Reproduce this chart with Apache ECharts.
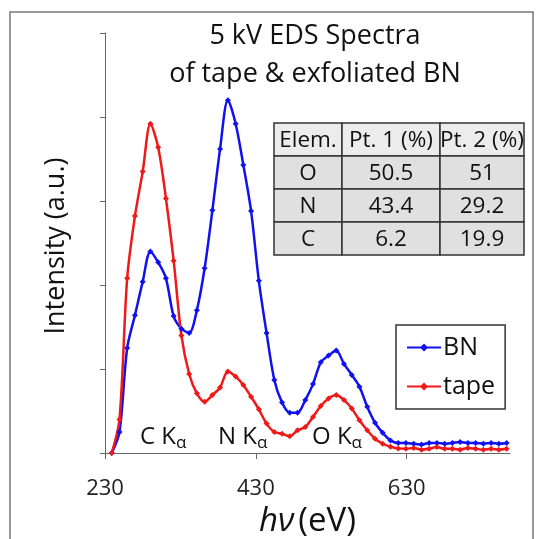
<!DOCTYPE html>
<html lang="en">

<head>
    <meta charset="UTF-8">
    <title>5 kV EDS Spectra</title>
    <script src="https://cdn.jsdelivr.net/npm/echarts@6/dist/echarts.min.js"></script>
    <style>
        html, body { margin: 0; padding: 0; background: #fff; }
        #chart { width: 539px; height: 539px; }
    </style>
</head>

<body>
<div id="chart"></div>

<script>
    // energy channels (eV)
    var energy = [238.9, 249.2, 259.4, 269.7, 280.0, 290.2, 300.5, 310.8, 321.0, 331.3,
        341.6, 351.8, 362.1, 372.4, 382.6, 392.9, 403.2, 413.4, 423.7, 434.0,
        444.2, 454.5, 464.8, 475.0, 485.3, 495.6, 505.8, 516.1, 526.4, 536.6,
        546.9, 557.2, 567.4, 577.7, 588.0, 598.2, 608.5, 618.8, 629.0, 639.3,
        649.6, 659.8, 670.1, 680.4, 690.6, 700.9, 711.2, 721.4, 731.7, 742.0,
        752.2, 762.5]
    // exfoliated BN spectrum (a.u.)
    var bn = [0, 0.25, 1.25, 1.64, 2.04, 2.40, 2.27, 2.08, 1.63, 1.48,
        1.43, 1.70, 2.20, 2.89, 3.62, 4.20, 3.92, 3.43, 2.88, 2.05,
        1.43, 0.87, 0.60, 0.48, 0.48, 0.63, 0.82, 1.08, 1.16, 1.22,
        1.06, 0.93, 0.79, 0.55, 0.36, 0.24, 0.15, 0.12, 0.12, 0.11,
        0.10, 0.12, 0.12, 0.11, 0.12, 0.13, 0.12, 0.12, 0.11, 0.12,
        0.11, 0.12]
    // tape spectrum (a.u.)
    var tape = [0, 0.40, 2.08, 2.82, 3.35, 3.92, 3.64, 3.03, 2.29, 1.40,
        0.94, 0.71, 0.61, 0.69, 0.78, 0.97, 0.91, 0.81, 0.67, 0.52,
        0.35, 0.25, 0.23, 0.20, 0.27, 0.31, 0.43, 0.56, 0.65, 0.69,
        0.63, 0.53, 0.39, 0.27, 0.17, 0.11, 0.075, 0.055, 0.05, 0.06,
        0.04, 0.05, 0.07, 0.05, 0.05, 0.04, 0.06, 0.05, 0.04, 0.05,
        0.04, 0.05]

    // composition table
    var tableHead = ['Elem.', 'Pt. 1 (%)', 'Pt. 2 (%)']
    var elements = ['O', 'N', 'C']
    var pt1 = ['50.5', '43.4', '6.2']
    var pt2 = ['51', '29.2', '19.9']

    // peak labels
    var peakNames = ['C K', 'N K', 'O K']

    var FONT = '"Open Sans", sans-serif'

    function pairs(xs, ys) {
        return xs.map(function (x, i) { return [x, ys[i]] })
    }

    // table drawn as graphic cells
    var colX = [274, 342, 440, 524]
    var rowY = [123, 156, 189, 222, 255]
    var tableEls = []
    var rows = [tableHead].concat(elements.map(function (e, i) { return [e, pt1[i], pt2[i]] }))
    rows.forEach(function (row, r) {
        row.forEach(function (txt, c) {
            tableEls.push({
                type: 'rect',
                shape: { x: colX[c], y: rowY[r], width: colX[c + 1] - colX[c], height: rowY[r + 1] - rowY[r] },
                style: { fill: r === 0 ? '#ececec' : '#e0e0e0', stroke: '#333', lineWidth: 1.5 }
            })
            tableEls.push({
                type: 'text',
                x: (colX[c] + colX[c + 1]) / 2,
                y: (rowY[r] + rowY[r + 1]) / 2 + 1,
                style: { text: txt, fontSize: 22.5, fontFamily: FONT, fill: '#111', align: 'center', verticalAlign: 'middle' }
            })
        })
    })

    var peakX = [140, 218, 312]
    var peakEls = peakNames.map(function (p, i) {
        return {
            type: 'text',
            x: peakX[i],
            y: 423,
            style: {
                text: '{a|' + p + '}{s|α}',
                rich: {
                    a: { fontSize: 24, fontFamily: FONT, fill: '#111' },
                    s: { fontSize: 17, fontFamily: FONT, fill: '#111', padding: [12, 0, 0, 0] }
                }
            }
        }
    })

    var mCharts = echarts.init(document.getElementById('chart'))
    var option = {
        animation: false,
        backgroundColor: '#fff',
        grid: { left: 105, right: 29, top: 33, bottom: 86, outerBoundsMode: 'none' },
        xAxis: {
            type: 'value',
            min: 230,
            max: 767,
            interval: 200,
            axisLine: { lineStyle: { color: '#666', width: 1 } },
            axisTick: { show: true, length: 6, lineStyle: { color: '#666' } },
            axisLabel: { fontSize: 22, fontFamily: FONT, color: '#222', margin: 25, showMaxLabel: false },
            splitLine: { show: false },
            name: '{i|hν}{n|(eV)}',
            nameLocation: 'middle',
            nameGap: 46,
            nameTextStyle: {
                rich: {
                    i: { fontSize: 33, fontStyle: 'italic', fontFamily: FONT, color: '#111', padding: [0, 4, 0, 0] },
                    n: { fontSize: 33, fontFamily: FONT, color: '#111' }
                }
            }
        },
        yAxis: {
            type: 'value',
            min: 0,
            max: 5,
            interval: 1,
            axisLine: { show: true, lineStyle: { color: '#666', width: 1 } },
            axisTick: { show: true, length: 5, lineStyle: { color: '#666' } },
            axisLabel: { show: false },
            splitLine: { show: false }
        },
        legend: {
            left: 396,
            top: 325,
            orient: 'vertical',
            data: ['BN', 'tape'],
            borderColor: '#333',
            borderWidth: 1.5,
            padding: [10, 10, 10, 10],
            itemGap: 14,
            itemWidth: 34,
            itemHeight: 10,
            textStyle: { fontSize: 25, fontFamily: FONT, color: '#111', padding: [0, 0, 0, -3] }
        },
        series: [{
            name: 'BN',
            type: 'line',
            data: pairs(energy, bn),
            smooth: 0.3,
            symbol: 'diamond',
            symbolSize: 6,
            color: '#1010f0',
            lineStyle: { width: 2.5 }
        }, {
            name: 'tape',
            type: 'line',
            data: pairs(energy, tape),
            smooth: 0.3,
            symbol: 'diamond',
            symbolSize: 6,
            color: '#f01818',
            lineStyle: { width: 2.5 }
        }],
        graphic: [{
            type: 'rect',
            shape: { x: 10, y: 12, width: 523, height: 560 },
            style: { fill: null, stroke: '#777', lineWidth: 1.5 },
            silent: true
        }, {
            type: 'text',
            x: 315,
            y: 17,
            style: {
                text: '5 kV EDS Spectra\nof tape & exfoliated BN',
                fontSize: 27,
                lineHeight: 38,
                fontFamily: FONT,
                fill: '#111',
                align: 'center'
            }
        }, {
            type: 'text',
            x: 56,
            y: 246,
            rotation: Math.PI / 2,
            style: {
                text: 'Intensity (a.u.)',
                fontSize: 27,
                fontFamily: FONT,
                fill: '#111',
                align: 'center',
                verticalAlign: 'middle'
            }
        }].concat(tableEls, peakEls)
    }
    mCharts.setOption(option)
</script>
</body>

</html>
